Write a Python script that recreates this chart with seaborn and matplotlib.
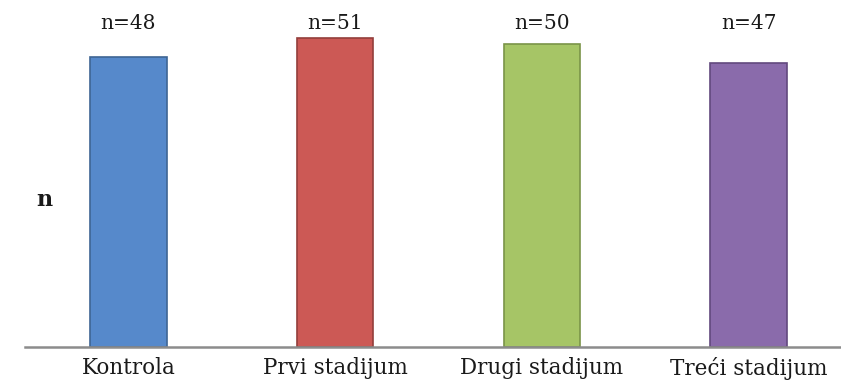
import matplotlib
matplotlib.use("Agg")
import matplotlib.pyplot as plt
import seaborn as sns
import pandas as pd

categories = ["Kontrola", "Prvi stadijum", "Drugi stadijum", "Treći stadijum"]
counts = [48, 51, 50, 47]
labels = ["n=48", "n=51", "n=50", "n=47"]

fill_colors = ["#5689CB", "#CC5955", "#A6C566", "#8A6BAB"]
edge_colors = ["#3E6594", "#933E3B", "#7A9448", "#62497E"]

sns.set_theme(style="white")
plt.rcParams["font.family"] = ["DejaVu Serif"]

df = pd.DataFrame({"grupa": categories, "n": counts})

fig = plt.figure(figsize=(8.41, 3.85), dpi=100)
ax = fig.add_axes([25 / 841, 38 / 385, 827 / 841, 337 / 385])

sns.barplot(data=df, x="grupa", y="n", hue="grupa", palette=fill_colors,
            legend=False, width=0.37, ax=ax, saturation=1)

for patch, ec in zip(ax.patches, edge_colors):
    patch.set_edgecolor(ec)
    patch.set_linewidth(1.2)

ax.set_ylim(0, 337 / 6.05)
ax.set_xlim(-0.5, 3.5)

label_y = (347 - 24) / 6.05
for i, txt in enumerate(labels):
    ax.text(i, label_y, txt, ha="center", va="center", fontsize=14.5,
            color="#1a1a1a")

ax.set_xlabel("")
ax.set_ylabel("")
ax.set_yticks([])
ax.tick_params(axis="x", length=0, pad=7, labelsize=15.5, labelcolor="#1a1a1a")
for side in ["top", "right", "left"]:
    ax.spines[side].set_visible(False)
ax.spines["bottom"].set_color("#8c8c8c")
ax.spines["bottom"].set_linewidth(1.8)

fig.text(44 / 841, 1 - 200 / 385, "n", ha="center", va="center",
         fontsize=16, fontweight="bold", color="#1a1a1a")

fig.savefig("out.png", dpi=100)
